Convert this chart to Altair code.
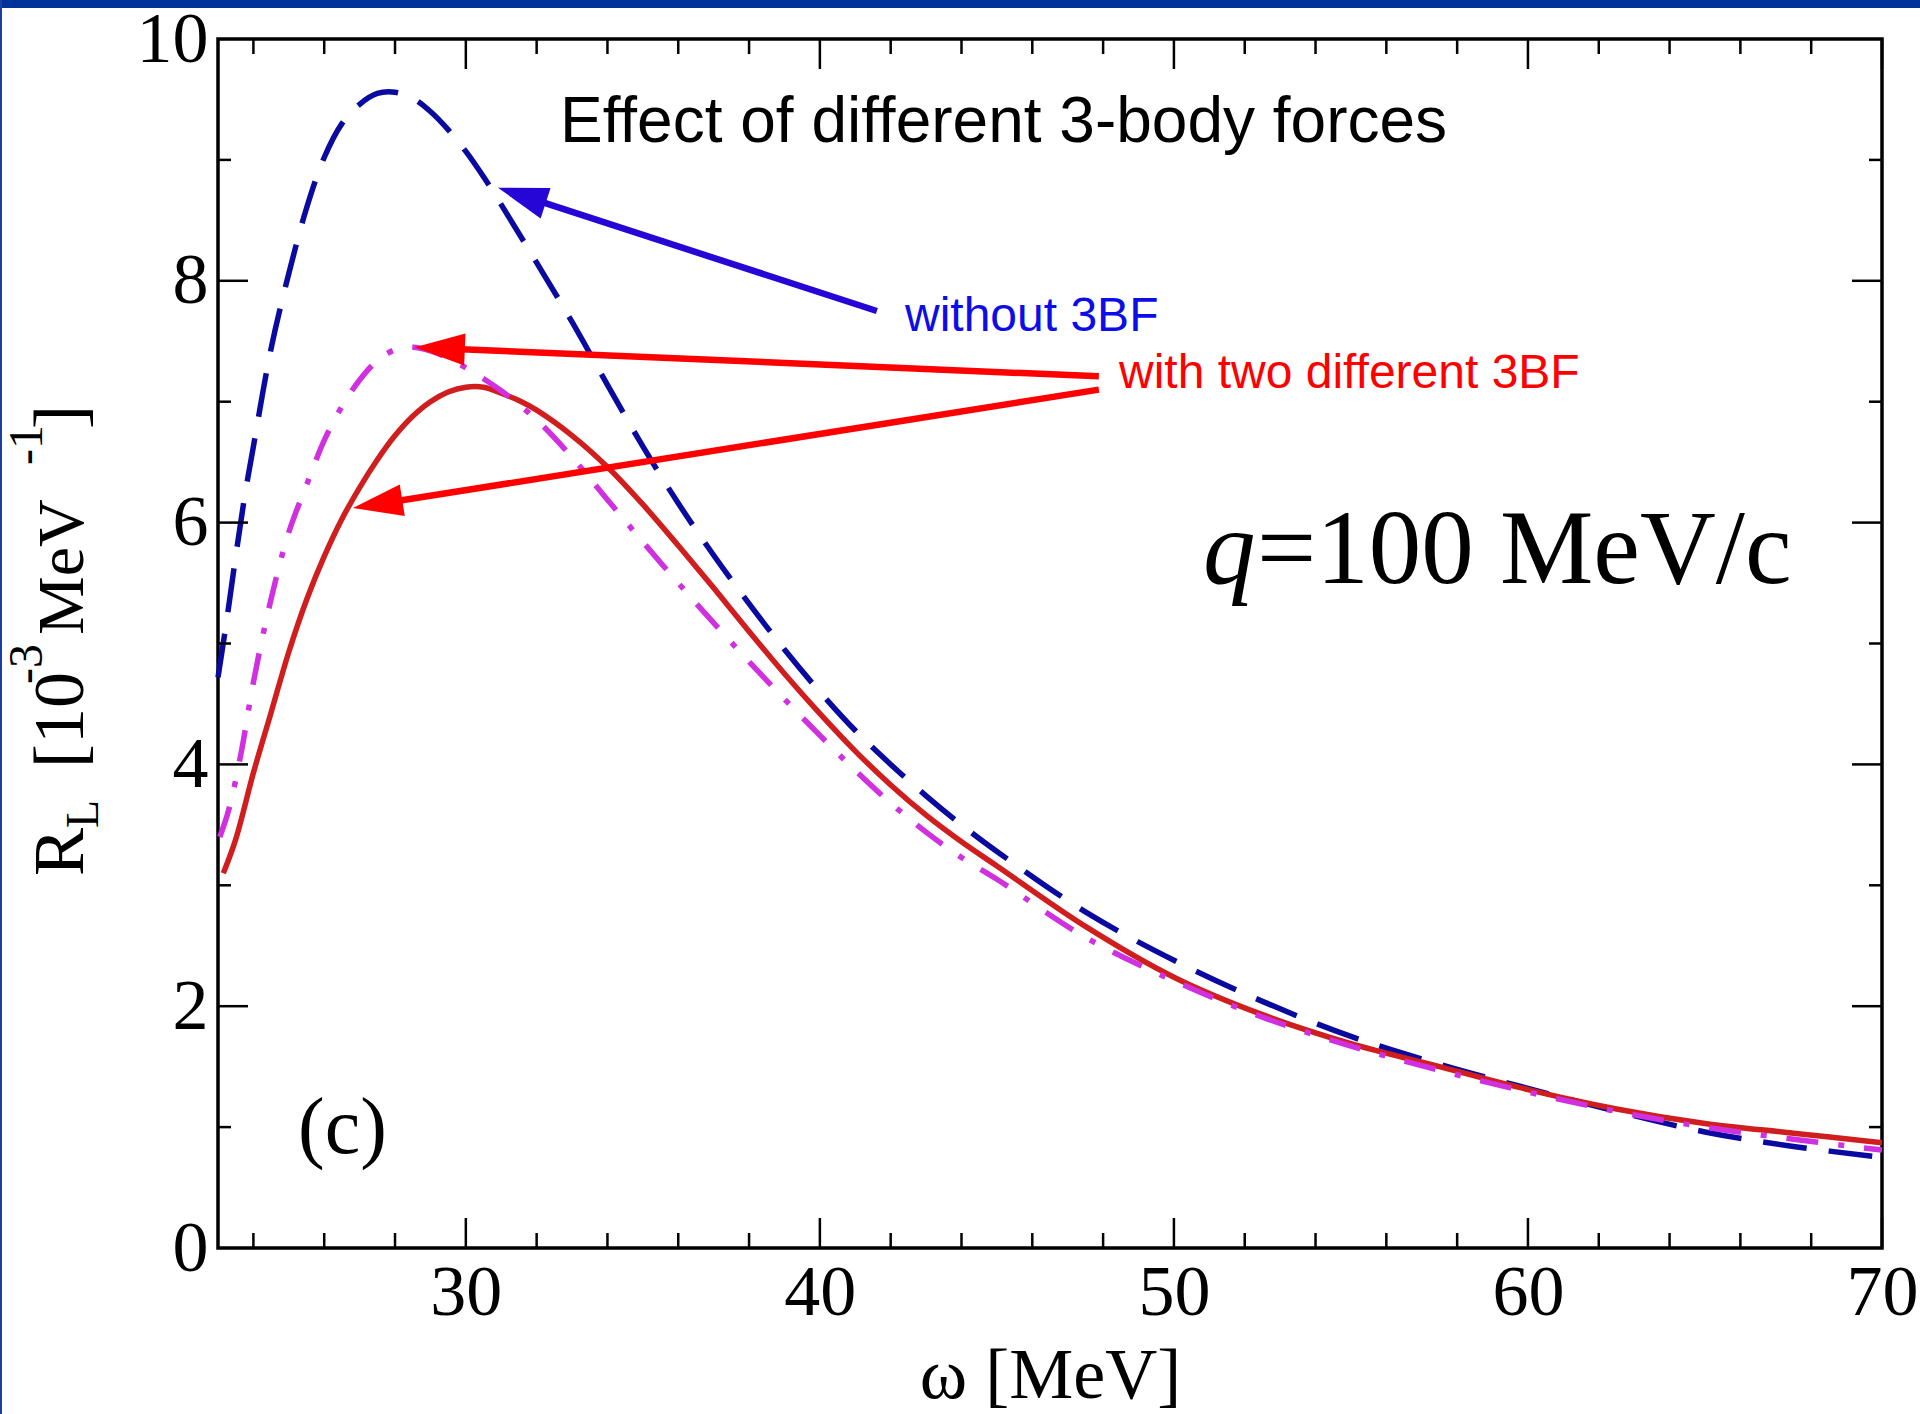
import math
import altair as alt
import pandas as pd

# ---------------- data ----------------
# without 3BF (blue, dashed)
omega_no3bf = [23.0, 23.25, 23.5, 23.75, 24.0, 24.5, 25.0, 25.5, 26.0, 26.5, 27.0, 27.5, 28.0,
               28.5, 29.0, 29.5, 30.0, 30.5, 31.0, 32.0, 33.0, 34.0, 35.0, 36.0, 37.0, 38.0,
               39.0, 40.0, 41.0, 42.0, 43.0, 44.0, 45.0, 47.5, 50.0, 52.5, 55.0, 57.5, 60.0,
               62.5, 65.0, 67.5, 70.0]
rl_no3bf = [4.72, 5.20, 5.72, 6.21, 6.63, 7.44, 8.06, 8.60, 9.02, 9.30, 9.46, 9.55, 9.56,
            9.51, 9.40, 9.25, 9.07, 8.86, 8.63, 8.15, 7.66, 7.14, 6.63, 6.16, 5.73, 5.33,
            4.95, 4.60, 4.28, 4.00, 3.74, 3.50, 3.28, 2.78, 2.38, 2.04, 1.75, 1.52, 1.32,
            1.13, 0.96, 0.84, 0.75]

# first 3BF (magenta, dash-dot)
omega_3bf_a = [23.05, 23.3, 23.65, 24.0, 24.5, 25.0, 25.5, 26.0, 26.5, 27.0, 27.5, 28.0, 28.5,
               29.0, 29.5, 30.0, 30.5, 31.0, 32.0, 33.0, 34.0, 35.0, 36.0, 37.0, 38.0, 39.0,
               40.0, 41.0, 42.0, 43.0, 44.0, 45.0, 47.5, 50.0, 52.5, 55.0, 57.5, 60.0, 62.5,
               65.0, 67.5, 70.0]
rl_3bf_a = [3.40, 3.62, 4.09, 4.68, 5.37, 5.92, 6.31, 6.68, 6.96, 7.18, 7.34, 7.43, 7.45,
            7.42, 7.36, 7.28, 7.19, 7.09, 6.85, 6.54, 6.19, 5.84, 5.50, 5.17, 4.85, 4.54,
            4.24, 3.95, 3.68, 3.44, 3.23, 3.05, 2.57, 2.21, 1.91, 1.67, 1.47, 1.29, 1.13,
            1.00, 0.90, 0.81]

# second 3BF (red, solid)
omega_3bf_b = [23.15, 23.5, 24.0, 24.5, 25.0, 25.5, 26.0, 26.5, 27.0, 27.5, 28.0, 28.5, 29.0,
               29.5, 30.0, 30.5, 31.0, 31.5, 32.0, 33.0, 34.0, 35.0, 36.0, 37.0, 38.0, 39.0,
               40.0, 41.0, 42.0, 43.0, 44.0, 45.0, 47.5, 50.0, 52.5, 55.0, 57.5, 60.0, 62.5,
               65.0, 67.5, 70.0]
rl_3bf_b = [3.10, 3.38, 3.93, 4.43, 4.93, 5.36, 5.72, 6.03, 6.29, 6.52, 6.72, 6.88, 7.00,
            7.08, 7.12, 7.12, 7.07, 7.01, 6.93, 6.72, 6.46, 6.15, 5.81, 5.46, 5.10, 4.75,
            4.42, 4.11, 3.83, 3.58, 3.36, 3.16, 2.66, 2.24, 1.93, 1.69, 1.50, 1.31, 1.15,
            1.03, 0.95, 0.87]

x_major = [30, 40, 50, 60, 70]
x_minor = [24, 26, 28, 32, 34, 36, 38, 42, 44, 46, 48, 52, 54, 56, 58, 62, 64, 66, 68]
y_major = [2, 4, 6, 8]
y_minor = [1, 3, 5, 7, 9]
y_labels = [0, 2, 4, 6, 8, 10]

# annotation arrows (data units): tail near the text, tip on the curve
arrow_tail_omega = [41.61, 47.88, 47.88]
arrow_tail_rl = [7.75, 7.21, 7.10]
arrow_tip_omega = [30.91, 28.56, 26.81]
arrow_tip_rl = [8.77, 7.45, 6.12]
arrow_kind = ["without", "with", "with"]

# ---------------- layout ----------------
W, H = 1664, 1209
PAD = {"left": 218, "top": 39, "right": 38, "bottom": 166}
XMIN, XMAX, YMIN, YMAX = 23, 70, 0, 10
SX = W / (XMAX - XMIN)
SY = H / (YMAX - YMIN)

xsc = alt.Scale(domain=[XMIN, XMAX], nice=False, zero=False)
ysc = alt.Scale(domain=[YMIN, YMAX], nice=False, zero=False)

SERIF = "Liberation Serif"
SANS = "Liberation Sans"

xaxis = alt.Axis(values=x_major, format="d", labelFont=SERIF, labelFontSize=72,
                 labelColor="black", labelPadding=9, ticks=False, domain=False, grid=False,
                 labelFlush=False, labelOverlap=False,
                 title="ω [MeV]", titleFont=SERIF, titleFontSize=72, titleFontWeight="normal",
                 titleColor="black", titleX=W / 2, titleY=149, titleBaseline="alphabetic",
                 titleAlign="center")
yaxis = alt.Axis(values=y_labels, format="d", labelFont=SERIF, labelFontSize=72,
                 labelColor="black", labelPadding=10, ticks=False, domain=False, grid=False,
                 labelFlush=False, labelOverlap=False, title="")


def X(field):
    return alt.X(field, scale=xsc, axis=xaxis)


def Y(field):
    return alt.Y(field, scale=ysc, axis=yaxis)


def curve(xs, ys, color, dash=None):
    df = pd.DataFrame({"omega": xs, "rl": ys})
    kw = dict(color=color, strokeWidth=5.5, interpolate="catmull-rom", strokeCap="butt")
    if dash:
        kw["strokeDash"] = dash
    return alt.Chart(df).mark_line(**kw).encode(
        x=X("omega:Q"), y=Y("rl:Q"), order=alt.Order("omega:Q"))


blue = curve(omega_no3bf, rl_no3bf, "#0a0aa0", [44, 22])
red = curve(omega_3bf_b, rl_3bf_b, "#d01e1e")
magenta = curve(omega_3bf_a, rl_3bf_a, "#d030e0", [32, 20, 6, 20])


# ---------------- inward ticks on all four sides ----------------
def xticks(vals, length):
    df = pd.DataFrame({"v": vals})
    base = alt.Chart(df).mark_rule(color="black", strokeWidth=2.5)
    bot = base.encode(x=X("v:Q"), y=alt.value(H), y2=alt.value(H - length))
    top = base.encode(x=X("v:Q"), y=alt.value(0), y2=alt.value(length))
    return bot + top


def yticks(vals, length):
    df = pd.DataFrame({"v": vals})
    base = alt.Chart(df).mark_rule(color="black", strokeWidth=2.5)
    left = base.encode(y=Y("v:Q"), x=alt.value(0), x2=alt.value(length))
    right = base.encode(y=Y("v:Q"), x=alt.value(W), x2=alt.value(W - length))
    return left + right


ticks = xticks(x_major, 30) + xticks(x_minor, 15) + yticks(y_major, 30) + yticks(y_minor, 13)

# ---------------- arrows ----------------
HEAD = 50.0
rows = []
for tx, ty, hx, hy, k in zip(arrow_tail_omega, arrow_tail_rl, arrow_tip_omega, arrow_tip_rl, arrow_kind):
    dxp = (hx - tx) * SX
    dyp = -(hy - ty) * SY
    L = math.hypot(dxp, dyp)
    ux, uy = dxp / L, dyp / L
    ang = math.degrees(math.atan2(dyp, dxp)) % 360
    ex = hx - ux * HEAD * 0.8 / SX
    ey = hy + uy * HEAD * 0.8 / SY
    rows.append({"tx": tx, "ty": ty, "ex": ex, "ey": ey, "hx": hx, "hy": hy, "ang": ang, "kind": k})
arrows_df = pd.DataFrame(rows)

arrow_color = alt.Color("kind:N", scale=alt.Scale(domain=["without", "with"], range=["#2606d6", "#ff0000"]), legend=None)

arrow_lines = alt.Chart(arrows_df).mark_rule(strokeWidth=6.5).encode(
    x=X("tx:Q"), y=Y("ty:Q"), x2="ex:Q", y2="ey:Q", color=arrow_color,
)
arrow_heads = alt.Chart(arrows_df).mark_point(
    shape="M0,0 L-2,-0.64 L-2,0.64 Z", filled=True, opacity=1, size=HEAD * HEAD, strokeWidth=0
).encode(
    x=X("hx:Q"), y=Y("hy:Q"), angle=alt.Angle("ang:Q", scale=None), color=arrow_color,
)


# ---------------- texts ----------------
def label(txt, x, y, size, font, color="black", angle=None, style=None, align="left"):
    kw = dict(font=font, fontSize=size, color=color, align=align, baseline="alphabetic")
    if angle is not None:
        kw["angle"] = angle
    if style:
        kw["fontStyle"] = style
    return alt.Chart(pd.DataFrame({"t": [txt]})).mark_text(**kw).encode(
        text="t:N", x=alt.value(x), y=alt.value(y))


texts = [
    label("Effect of different 3-body forces", 342, 103, 64, SANS),
    label("without 3BF", 687, 292, 48, SANS, "#0d0de8"),
    label("with two different 3BF", 901, 349, 48, SANS, "#ff0000"),
    label("q", 985, 544, 105, SERIF, style="italic"),
    label("=100 MeV/c", 1039, 544, 105, SERIF),
    label("(c)", 80, 1114, 80, SERIF),
    # y-axis title  R_L [10^-3 MeV^-1]
    label("R", -135, 837, 72, SERIF, angle=270),
    label("L", -120, 789, 46, SERIF, angle=270),
    label("[10", -135, 729, 72, SERIF, angle=270),
    label("-3", -176, 645, 48, SERIF, angle=270),
    label("MeV", -135, 596, 66, SERIF, angle=270),
    label("-1", -176, 426, 48, SERIF, angle=270),
    label("]", -135, 390, 72, SERIF, angle=270),
]

# ---------------- slide frame (blue bar on top, thin line on the left) ----------------
one = pd.DataFrame({"a": [0]})
frame_top = alt.Chart(one).mark_rect(color="#003399").encode(
    x=alt.value(-PAD["left"]), x2=alt.value(W + PAD["right"]),
    y=alt.value(-PAD["top"]), y2=alt.value(-PAD["top"] + 8))
frame_left = alt.Chart(one).mark_rect(color="#1a3fa0").encode(
    x=alt.value(-PAD["left"]), x2=alt.value(-PAD["left"] + 2),
    y=alt.value(-PAD["top"]), y2=alt.value(H + PAD["bottom"]))

chart = alt.layer(
    blue, red, magenta, ticks, arrow_lines, arrow_heads, *texts, frame_top, frame_left
).properties(
    width=W, height=H, padding=PAD, autosize=alt.AutoSizeParams(type="none"), background="white"
).configure_view(stroke="black", strokeWidth=3.5)

chart.save("out.html", embed_options={"renderer": "svg", "actions": False})
